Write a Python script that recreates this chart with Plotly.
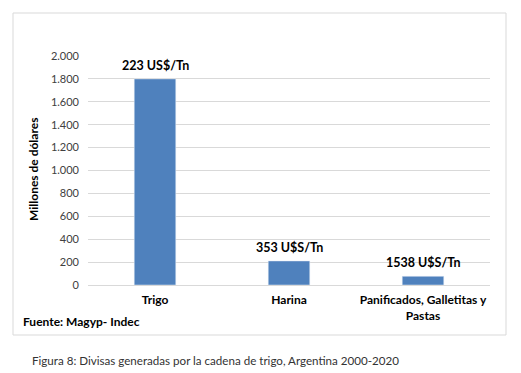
import plotly.graph_objects as go

categories = ["Trigo", "Harina", "Panificados, Galletitas y<br>Pastas"]
values = [1800, 210, 76]
price_labels = ["223 US$/Tn", "353 U$S/Tn", "1538 U$S/Tn"]
y_ticks = [0, 200, 400, 600, 800, 1000, 1200, 1400, 1600, 1800, 2000]

OFF = 8  # page body margin
W, H = 521 - OFF, 373 - OFF
L, R, T, B = 88 - OFF, 31, 56 - OFF, 88
pw, ph = W - L - R, H - T - B

def px(x):
    return (x - OFF - L) / pw

def py(y):
    return (H - B - (y - OFF)) / ph

FONT = "Lato"

fig = go.Figure()
fig.add_trace(go.Bar(
    x=categories, y=values, marker_color="#4f81bd", width=0.31,
    hoverinfo="skip",
))

for c, v, t in zip(categories, values, price_labels):
    fig.add_annotation(x=c, y=v, text=t, showarrow=False,
                       yanchor="bottom", yshift=4,
                       font=dict(family=FONT, size=12.5, color="#000000", weight="bold"))

fig.add_annotation(xref="paper", yref="paper", x=px(33), y=py(170),
                   text="Millones de dólares", textangle=-90,
                   showarrow=False, xanchor="center", yanchor="middle",
                   font=dict(family=FONT, size=12, color="#000000", weight="bold"))
fig.add_annotation(xref="paper", yref="paper", x=px(21), y=py(321),
                   text="Fuente: Magyp- Indec", showarrow=False,
                   xanchor="left", yanchor="middle",
                   font=dict(family=FONT, size=12, color="#000000", weight="bold"))
fig.add_annotation(xref="paper", yref="paper", x=px(30), y=py(360),
                   text="Figura 8: Divisas generadas por la cadena de trigo, Argentina 2000-2020",
                   showarrow=False, xanchor="left", yanchor="middle",
                   font=dict(family=FONT, size=11.6, color="#333333"))

fig.add_shape(type="rect", xref="paper", yref="paper",
              x0=px(13), x1=px(506), y0=py(335), y1=py(13),
              line=dict(color="#d9d9d9", width=1), layer="below")

fig.update_layout(
    width=W, height=H,
    margin=dict(l=L, r=R, t=T, b=B, autoexpand=False),
    paper_bgcolor="white", plot_bgcolor="white",
    separators=",.",
    showlegend=False,
    bargap=0.69,
    font=dict(family=FONT),
)
fig.update_xaxes(
    automargin=False,
    showgrid=False, showline=True, linecolor="#d9d9d9", linewidth=1,
    ticks="", tickfont=dict(family=FONT, size=12, color="#000000", weight="bold"),
    ticklabelstandoff=4,
)
fig.update_yaxes(
    automargin=False,
    range=[0, 2000], tickvals=y_ticks, tickformat=",d",
    showgrid=True, gridcolor="#d9d9d9", gridwidth=1, zeroline=False,
    showline=False, ticks="", ticklabelstandoff=8,
    tickfont=dict(family=FONT, size=11, color="#404040"),
)

fig.write_html("out.html")
